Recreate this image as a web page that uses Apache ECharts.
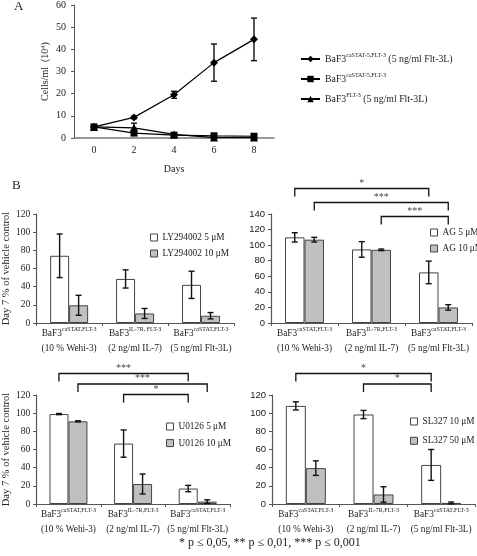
<!DOCTYPE html>
<html><head><meta charset="utf-8">
<script src="https://cdn.jsdelivr.net/npm/echarts@6/dist/echarts.min.js"></script>
<style>html,body{margin:0;padding:0;background:#fff}#c{width:477px;height:556px}</style>
</head><body><div id="c"></div>
<script>
// ---------- Panel A data ----------
const daysA = ['0', '2', '4', '6', '8'];
const seriesAKeys = ['caSTAT5_FLT3_Flt3L', 'caSTAT5_FLT3', 'FLT3_Flt3L'];
const seriesASup = ['caSTAT-5,FLT-3', 'caSTAT-5,FLT-3', 'FLT-3'];
const seriesASuffix = [' (5 ng/ml Flt-3L)', '', ' (5 ng/ml Flt-3L)'];
const cellsDiamond = [5, 9.3, 19.5, 34.0, 44.5];
const cellsDiamondSD = [0.3, 0.6, 1.6, 8.4, 9.6];
const cellsSquare = [5, 2.2, 1.3, 1.0, 0.8];
const cellsSquareSD = [0.3, 0.5, 0.3, 0.2, 0.2];
const cellsTriangle = [5, 4.6, 1.6, 0.2, 0.2];
const cellsTriangleSD = [0.3, 2.1, 0.4, 0.1, 0.1];
const ticksA = [0, 10, 20, 30, 40, 50, 60];

// ---------- Panel B data ----------
const catsB1 = [['BaF3', 'caSTAT,FLT-3', '(10 % Wehi-3)'], ['BaF3', 'IL-7R, FLT-3', '(2 ng/ml IL-7)'], ['BaF3', 'caSTAT,FLT-3', '(5 ng/ml Flt-3L)']];
const catsB2 = [['BaF3', 'caSTAT,FLT-3', '(10 % Wehi-3)'], ['BaF3', 'IL-7R,FLT-3', '(2 ng/ml IL-7)'], ['BaF3', 'caSTAT,FLT-3', '(5 ng/ml Flt-3L)']];
const catsB3 = [['BaF3', 'caSTAT,FLT-3', '(10 % Wehi-3)'], ['BaF3', 'IL-7R,FLT-3', '(2 ng/ml IL-7)'], ['BaF3', 'caSTAT,FLT-3', '(5 ng/ml Flt-3L)']];
const catsB4 = [['BaF3', 'caSTAT,FLT-3', '(10 % Wehi-3)'], ['BaF3', 'IL-7R,FLT-3', '(2 ng/ml IL-7)'], ['BaF3', 'caSTAT,FLT-3', '(5 ng/ml Flt-3L)']];

const namesB1 = ['LY294002 5 μM', 'LY294002 10 μM'];
const lowDoseB1 = [74, 48.5, 42];
const lowDoseB1SD = [24, 10, 15];
const highDoseB1 = [19.5, 10.5, 8];
const highDoseB1SD = [11, 5.5, 3.5];
const ticksB1 = [0, 20, 40, 60, 80, 100, 120];

const namesB2 = ['AG 5 μM', 'AG 10 μM'];
const lowDoseB2 = [110, 94.5, 65];
const lowDoseB2SD = [6, 10, 14.5];
const highDoseB2 = [107, 94, 20];
const highDoseB2SD = [3, 1, 3.5];
const ticksB2 = [0, 20, 40, 60, 80, 100, 120, 140];

const namesB3 = ['U0126 5 μM', 'U0126 10 μM'];
const lowDoseB3 = [99, 66.5, 17];
const lowDoseB3SD = [0.6, 15, 3.5];
const highDoseB3 = [91, 22, 2.6];
const highDoseB3SD = [0.6, 11, 2];
const ticksB3 = [0, 20, 40, 60, 80, 100, 120];

const namesB4 = ['SL327 10 μM', 'SL327 50 μM'];
const lowDoseB4 = [108, 98.5, 43];
const lowDoseB4SD = [4.5, 4.5, 17];
const highDoseB4 = [39.5, 10.5, 1.2];
const highDoseB4SD = [8, 8.5, 1];
const ticksB4 = [0, 20, 40, 60, 80, 100, 120];

// significance brackets: [fromCategory, fromBar(0=low,1=high), toCategory, toBar, label]
const bracketsB1 = [];
const bracketsB2 = [[0, 0, 2, 0, '*'], [0, 1, 2, 1, '***'], [1, 1, 2, 1, '***']];
const bracketsB3 = [[0, 0, 2, 0, '***'], [0, 1, 2, 1, '***'], [1, 0, 2, 0, '*']];
const bracketsB4 = [[0, 0, 2, 0, '*'], [1, 0, 2, 0, '*']];

const footnote = '* p ≤ 0,05, ** p ≤ 0,01, *** p ≤ 0,001';

// ---------- layout / style ----------
const SERIF = '"Liberation Serif", "Times New Roman", serif';
const SANS = '"Liberation Sans", Arial, sans-serif';
const TXT = '#222';
const AXIS = '#555';
const LBL = 9.3;

const panelLayout = [
  { grid: { left: 33, top: 214, width: 201, height: 109 }, bw: 19, legend: { left: 150, top: 232, gap: 5 }, tickFont: SERIF, yName: true, bracketY: [] },
  { grid: { left: 271, top: 214, width: 201, height: 109 }, bw: 19.5, legend: { left: 430, top: 227, gap: 5 }, tickFont: SANS, yName: false, bracketY: [-25.5, -11.5, 2.5] },
  { grid: { left: 33, top: 395, width: 197, height: 109 }, bw: 19, legend: { left: 166, top: 421, gap: 5.6 }, tickFont: SERIF, yName: true, bracketY: [-21.5, -11, -0.5] },
  { grid: { left: 272, top: 395, width: 203, height: 109 }, bw: 20, legend: { left: 410, top: 416, gap: 8.3 }, tickFont: SANS, yName: false, bracketY: [-21.5, -11] }
];
const panelData = [
  { cats: catsB1, names: namesB1, vals: [lowDoseB1, highDoseB1], sds: [lowDoseB1SD, highDoseB1SD], ticks: ticksB1, brackets: bracketsB1 },
  { cats: catsB2, names: namesB2, vals: [lowDoseB2, highDoseB2], sds: [lowDoseB2SD, highDoseB2SD], ticks: ticksB2, brackets: bracketsB2 },
  { cats: catsB3, names: namesB3, vals: [lowDoseB3, highDoseB3], sds: [lowDoseB3SD, highDoseB3SD], ticks: ticksB3, brackets: bracketsB3 },
  { cats: catsB4, names: namesB4, vals: [lowDoseB4, highDoseB4], sds: [lowDoseB4SD, highDoseB4SD], ticks: ticksB4, brackets: bracketsB4 }
];

function errRender(bw) {
  return function (params, api) {
    const x = api.value(0), lo = api.value(1), hi = api.value(2), slot = api.value(3);
    const t = api.coord([x, hi]), b = api.coord([x, lo]);
    const cx = t[0] + (slot < 0 ? 0 : (slot === 0 ? -bw / 2 : bw / 2));
    const cap = 3;
    const st = { stroke: '#111', lineWidth: 1.4 };
    return { type: 'group', children: [
      { type: 'line', shape: { x1: cx, y1: t[1], x2: cx, y2: b[1] }, style: st },
      { type: 'line', shape: { x1: cx - cap, y1: t[1], x2: cx + cap, y2: t[1] }, style: st },
      { type: 'line', shape: { x1: cx - cap, y1: b[1], x2: cx + cap, y2: b[1] }, style: st }
    ] };
  };
}
function bracketRender(bw, levels, labels) {
  return function (params, api) {
    const i = params.dataIndex;
    const x1 = api.coord([api.value(0), 0])[0] + (api.value(1) === 0 ? -bw / 2 : bw / 2);
    const x2 = api.coord([api.value(2), 0])[0] + (api.value(3) === 0 ? -bw / 2 : bw / 2);
    const y = params.coordSys.y + levels[i];
    const leg = 8;
    return { type: 'group', children: [
      { type: 'polyline', shape: { points: [[x1, y + leg], [x1, y], [x2, y], [x2, y + leg]] }, style: { stroke: '#111', lineWidth: 1.3, fill: null } },
      { type: 'text', style: { text: labels[i], x: (x1 + x2) / 2, y: y - 0.5, align: 'center', verticalAlign: 'bottom', font: '10px ' + SERIF, fill: '#444' } }
    ] };
  };
}

const grids = [{ left: 74, top: 4, width: 200, height: 134 }];
const xAxes = [{
  type: 'category', gridIndex: 0, data: daysA, boundaryGap: true,
  axisLine: { lineStyle: { color: '#777', width: 1.5 } }, axisTick: { show: false },
  axisLabel: { fontFamily: SERIF, fontSize: 10, color: TXT, margin: 7 },
  name: 'Days', nameLocation: 'middle', nameGap: 26,
  nameTextStyle: { fontFamily: SERIF, fontSize: 10, color: TXT }
}];
const yAxes = [{
  type: 'value', gridIndex: 0, min: ticksA[0], max: ticksA[ticksA.length - 1], interval: ticksA[1] - ticksA[0],
  splitLine: { show: false },
  axisLine: { show: true, lineStyle: { color: AXIS, width: 1 } },
  axisTick: { show: true, length: 3, lineStyle: { color: AXIS } },
  axisLabel: { fontFamily: SERIF, fontSize: 10, color: TXT, margin: 8 },
  name: 'Cells/ml  (10{s|4})', nameLocation: 'middle', nameGap: 24,
  nameTextStyle: { fontFamily: SERIF, fontSize: 10, color: TXT, rich: { s: { fontFamily: SERIF, fontSize: 6.5, verticalAlign: 'top', color: TXT } } }
}];

const symbolsA = ['diamond', 'rect', 'triangle'];
const sizesA = [8, 7, 8];
const valuesA = [cellsDiamond, cellsSquare, cellsTriangle];
const sdsA = [cellsDiamondSD, cellsSquareSD, cellsTriangleSD];
const series = [];
valuesA.forEach((vals, k) => {
  series.push({
    type: 'line', name: seriesAKeys[k], xAxisIndex: 0, yAxisIndex: 0, data: vals,
    symbol: symbolsA[k], symbolSize: sizesA[k], showSymbol: true,
    lineStyle: { color: '#000', width: 1.2 }, itemStyle: { color: '#000' }, z: 4, animation: false
  });
  series.push({
    type: 'custom', xAxisIndex: 0, yAxisIndex: 0, renderItem: errRender(0), z: 3, silent: true,
    data: vals.map((v, i) => [i, v - sdsA[k][i], v + sdsA[k][i], -1])
  });
});

const legends = [{
  data: seriesAKeys, left: 300, top: 52, padding: 0, orient: 'vertical', itemGap: 8, itemWidth: 19, itemHeight: 8,
  formatter: n => { const i = seriesAKeys.indexOf(n); return '{b|BaF3}{s|' + seriesASup[i] + '}{b|' + seriesASuffix[i] + '}'; },
  textStyle: { rich: {
    b: { fontFamily: SERIF, fontSize: 9.8, color: TXT, lineHeight: 14 },
    s: { fontFamily: SERIF, fontSize: 6, color: TXT, verticalAlign: 'top' }
  } }
}];

panelData.forEach((pd, p) => {
  const L = panelLayout[p];
  const gi = p + 1;
  grids.push(L.grid);
  xAxes.push({
    type: 'category', gridIndex: gi, data: pd.cats.map(c => c.join(' ')), boundaryGap: true,
    axisLine: { lineStyle: { color: AXIS, width: 1.2 } },
    axisTick: { show: true, length: 3, lineStyle: { color: AXIS } },
    axisLabel: {
      interval: 0, margin: 3, color: TXT,
      formatter: (v, idx) => '{b|' + pd.cats[idx][0] + '}{s|' + pd.cats[idx][1] + '}\n{b|' + pd.cats[idx][2] + '}',
      rich: {
        b: { fontFamily: SERIF, fontSize: LBL, color: TXT, lineHeight: 15 },
        s: { fontFamily: SERIF, fontSize: 6, color: TXT, verticalAlign: 'top' }
      }
    }
  });
  const y = {
    type: 'value', gridIndex: gi, min: pd.ticks[0], max: pd.ticks[pd.ticks.length - 1], interval: pd.ticks[1] - pd.ticks[0],
    splitLine: { show: false },
    axisLine: { show: true, lineStyle: { color: AXIS, width: 1.2 } },
    axisTick: { show: true, length: 3, lineStyle: { color: AXIS } },
    axisLabel: { fontFamily: L.tickFont, fontSize: 9.5, color: TXT, margin: 6 }
  };
  if (L.yName) {
    y.name = 'Day 7 % of vehicle control'; y.nameLocation = 'middle'; y.nameGap = 21;
    y.nameTextStyle = { fontFamily: SERIF, fontSize: 10.5, color: TXT };
  }
  yAxes.push(y);
  const fills = ['#ffffff', '#c0c0c0'];
  [0, 1].forEach(s => {
    series.push({
      type: 'bar', name: pd.names[s], xAxisIndex: gi, yAxisIndex: gi, data: pd.vals[s],
      barWidth: L.bw, barGap: '0%',
      itemStyle: { color: fills[s], borderColor: '#444', borderWidth: 1 }, animation: false
    });
  });
  const errData = [];
  [0, 1].forEach(s => pd.vals[s].forEach((v, i) => errData.push([i, Math.max(0, v - pd.sds[s][i]), v + pd.sds[s][i], s])));
  series.push({ type: 'custom', xAxisIndex: gi, yAxisIndex: gi, renderItem: errRender(L.bw), data: errData, z: 5, silent: true });
  if (pd.brackets.length) {
    series.push({
      type: 'custom', xAxisIndex: gi, yAxisIndex: gi, z: 6, silent: true, clip: false,
      renderItem: bracketRender(L.bw, L.bracketY, pd.brackets.map(b => b[4])),
      data: pd.brackets.map(b => [b[0], b[1], b[2], b[3]])
    });
  }
  legends.push({
    data: pd.names, left: L.legend.left, top: L.legend.top, padding: 0, orient: 'vertical', itemGap: L.legend.gap,
    itemWidth: 7, itemHeight: 7, icon: 'rect',
    itemStyle: { borderColor: '#444', borderWidth: 1 },
    textStyle: { fontFamily: SERIF, fontSize: 9.3, color: TXT, lineHeight: 11 }
  });
});

const chart = echarts.init(document.getElementById('c'));
chart.setOption({
  backgroundColor: '#fff',
  animation: false,
  grid: grids, xAxis: xAxes, yAxis: yAxes, legend: legends, series: series,
  graphic: [
    { type: 'text', left: 14, top: 0, style: { text: 'A', font: '13px ' + SERIF, fill: TXT } },
    { type: 'text', left: 12, top: 179, style: { text: 'B', font: '13px ' + SERIF, fill: TXT } },
    { type: 'text', left: 179, top: 537, style: { text: footnote, font: '12px ' + SERIF, fill: TXT } }
  ]
});
</script>
</body></html>
